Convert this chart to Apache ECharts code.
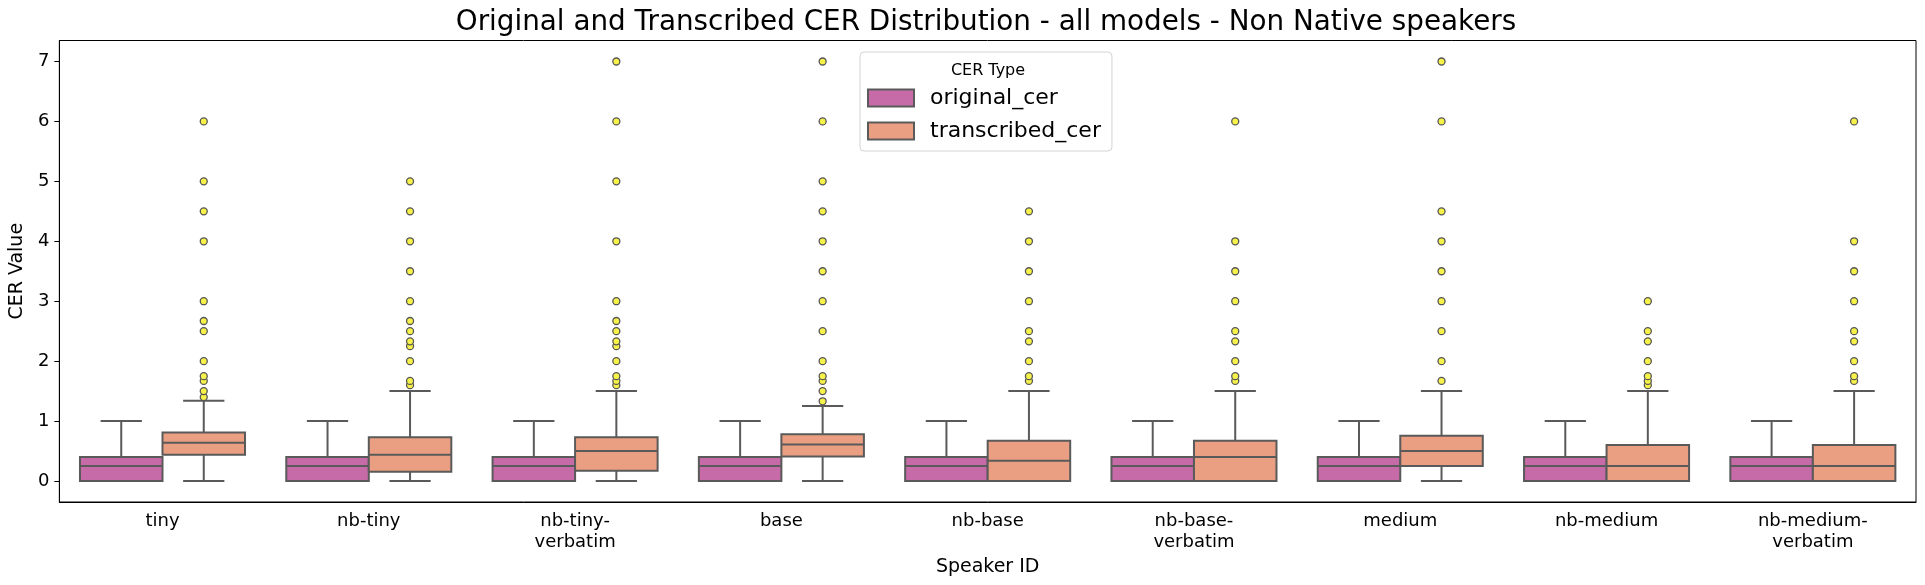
<!DOCTYPE html>
<html>
<head>
<meta charset="utf-8">
<script src="https://cdn.jsdelivr.net/npm/echarts@6/dist/echarts.min.js"></script>
<style>
html,body{margin:0;padding:0;background:#fff;}
#chart{width:1925px;height:585px;}
</style>
</head>
<body>
<div id="chart"></div>
<script>
// ---- data ----
const categories = ['tiny', 'nb-tiny', 'nb-tiny-\nverbatim', 'base', 'nb-base', 'nb-base-\nverbatim', 'medium', 'nb-medium', 'nb-medium-\nverbatim'];
const yTicks = [0, 1, 2, 3, 4, 5, 6, 7];
// [lower whisker, Q1, median, Q3, upper whisker]
const originalStats = [
  [0, 0, 0.25, 0.4, 1.0],
  [0, 0, 0.25, 0.4, 1.0],
  [0, 0, 0.25, 0.4, 1.0],
  [0, 0, 0.25, 0.4, 1.0],
  [0, 0, 0.25, 0.4, 1.0],
  [0, 0, 0.25, 0.4, 1.0],
  [0, 0, 0.25, 0.4, 1.0],
  [0, 0, 0.25, 0.4, 1.0],
  [0, 0, 0.25, 0.4, 1.0]
];
const transcribedStats = [
  [0, 0.44, 0.64, 0.81, 1.34],
  [0, 0.155, 0.44, 0.73, 1.5],
  [0, 0.17, 0.5, 0.73, 1.5],
  [0, 0.41, 0.61, 0.78, 1.25],
  [0, 0, 0.34, 0.67, 1.5],
  [0, 0, 0.4, 0.67, 1.5],
  [0, 0.25, 0.5, 0.755, 1.5],
  [0, 0, 0.25, 0.6, 1.5],
  [0, 0, 0.25, 0.6, 1.5]
];
const transcribedOutliers = [
  [1.4, 1.5, 1.67, 1.75, 2, 2.5, 2.67, 3, 4, 4.5, 5, 6],
  [1.6, 1.67, 2, 2.25, 2.33, 2.5, 2.67, 3, 3.5, 4, 4.5, 5],
  [1.6, 1.67, 1.75, 2, 2.25, 2.33, 2.5, 2.67, 3, 4, 5, 6, 7],
  [1.33, 1.5, 1.67, 1.75, 2, 2.5, 3, 3.5, 4, 4.5, 5, 6, 7],
  [1.67, 1.75, 2, 2.33, 2.5, 3, 3.5, 4, 4.5],
  [1.67, 1.75, 2, 2.33, 2.5, 3, 3.5, 4, 6],
  [1.67, 2, 2.5, 3, 3.5, 4, 4.5, 6, 7],
  [1.6, 1.67, 1.75, 2, 2.33, 2.5, 3],
  [1.67, 1.75, 2, 2.33, 2.5, 3, 3.5, 4, 6]
];
const seriesNames = ['original_cer', 'transcribed_cer'];

// ---- styles ----
const FONT = 'DejaVu Sans';
const colors = ['#c66aa8', '#eb9f82'];
const lineColor = '#5a5a5a';

function boxData(stats) {
  return stats.map((s, i) => [i].concat(s));
}
function outlierData(lists) {
  const out = [];
  lists.forEach((l, i) => l.forEach(v => out.push([i, v])));
  return out;
}

function makeBoxRender(hue) {
  return function (params, api) {
    const ci = api.value(0);
    const band = api.size([1, 0])[0];
    const w = band * 0.4;
    const cx = api.coord([ci, 0])[0] + (hue === 0 ? -w / 2 : w / 2);
    const yLo = api.coord([ci, api.value(1)])[1];
    const yQ1 = api.coord([ci, api.value(2)])[1];
    const yMed = api.coord([ci, api.value(3)])[1];
    const yQ3 = api.coord([ci, api.value(4)])[1];
    const yHi = api.coord([ci, api.value(5)])[1];
    const ls = { stroke: lineColor, lineWidth: 2, fill: null };
    const capW = w / 2;
    return {
      type: 'group',
      children: [
        { type: 'line', shape: { x1: cx, y1: yQ3, x2: cx, y2: yHi }, style: ls },
        { type: 'line', shape: { x1: cx, y1: yQ1, x2: cx, y2: yLo }, style: ls },
        { type: 'line', shape: { x1: cx - capW / 2, y1: yHi, x2: cx + capW / 2, y2: yHi }, style: ls },
        { type: 'line', shape: { x1: cx - capW / 2, y1: yLo, x2: cx + capW / 2, y2: yLo }, style: ls },
        { type: 'rect', shape: { x: cx - w / 2, y: yQ3, width: w, height: yQ1 - yQ3 },
          style: { fill: colors[hue], stroke: lineColor, lineWidth: 2 } },
        { type: 'line', shape: { x1: cx - w / 2, y1: yMed, x2: cx + w / 2, y2: yMed }, style: ls }
      ]
    };
  };
}

function makeOutlierRender(hue) {
  return function (params, api) {
    const ci = api.value(0);
    const band = api.size([1, 0])[0];
    const w = band * 0.4;
    const cx = api.coord([ci, 0])[0] + (hue === 0 ? -w / 2 : w / 2);
    const y = api.coord([ci, api.value(1)])[1];
    return {
      type: 'circle',
      shape: { cx: cx, cy: y, r: 3.5 },
      style: { fill: '#f6f24a', stroke: '#555555', lineWidth: 1.3 }
    };
  };
}

const chart = echarts.init(document.getElementById('chart'), null, { renderer: 'canvas' });
const option = {
  animation: false,
  backgroundColor: '#ffffff',
  textStyle: { fontFamily: FONT },
  title: [
    {
      text: 'Original and Transcribed CER Distribution - all models - Non Native speakers',
      left: 981, top: 4, textAlign: 'center',
      textStyle: { fontFamily: FONT, fontSize: 27.8, fontWeight: 'normal', color: '#000' }
    },
    {
      text: 'CER Type',
      left: 983, top: 58, textAlign: 'center',
      textStyle: { fontFamily: FONT, fontSize: 16, fontWeight: 'normal', color: '#000' }
    }
  ],
  legend: {
    orient: 'vertical',
    left: 860, top: 52,
    padding: [35, 11, 9, 7],
    itemWidth: 46, itemHeight: 17, itemGap: 11,
    borderColor: '#d4d4d4', borderWidth: 1, borderRadius: 4,
    backgroundColor: 'rgba(255,255,255,0.8)',
    textStyle: { fontFamily: FONT, fontSize: 22, lineHeight: 22, color: '#000', padding: [0, 0, 0, 11] },
    data: [
      { name: seriesNames[0], icon: 'rect', itemStyle: { color: colors[0], borderColor: lineColor, borderWidth: 2 } },
      { name: seriesNames[1], icon: 'rect', itemStyle: { color: colors[1], borderColor: lineColor, borderWidth: 2 } }
    ]
  },
  grid: {
    left: 56, right: 9, top: 40.5, bottom: 83,
    show: true, borderColor: '#000', borderWidth: 1, backgroundColor: 'transparent'
  },
  xAxis: {
    type: 'category',
    data: categories,
    boundaryGap: true,
    name: 'Speaker ID',
    nameLocation: 'middle',
    nameGap: 52,
    nameTextStyle: { fontFamily: FONT, fontSize: 19, color: '#000' },
    axisLine: { onZero: false, lineStyle: { color: '#000', width: 1 } },
    axisTick: { alignWithLabel: true, length: 5, lineStyle: { color: '#000' } },
    axisLabel: { fontFamily: FONT, fontSize: 18, color: '#000', lineHeight: 21, margin: 9, interval: 0 },
    splitLine: { show: false }
  },
  yAxis: {
    type: 'value',
    min: -0.35, max: 7.35,
    name: 'CER Value',
    nameLocation: 'middle',
    nameGap: 29,
    nameTextStyle: { fontFamily: FONT, fontSize: 19, color: '#000' },
    axisLine: { show: true, onZero: false, lineStyle: { color: '#000', width: 1 } },
    axisTick: { show: true, length: 5, lineStyle: { color: '#000' }, customValues: yTicks },
    axisLabel: { fontFamily: FONT, fontSize: 18, color: '#000', margin: 10, customValues: yTicks },
    splitLine: { show: false }
  },
  series: [
    {
      name: seriesNames[0], type: 'custom', renderItem: makeBoxRender(0),
      itemStyle: { color: colors[0] },
      encode: { x: 0, y: [1, 2, 3, 4, 5] },
      data: boxData(originalStats), z: 2
    },
    {
      name: seriesNames[1], type: 'custom', renderItem: makeBoxRender(1),
      itemStyle: { color: colors[1] },
      encode: { x: 0, y: [1, 2, 3, 4, 5] },
      data: boxData(transcribedStats), z: 2
    },
    {
      name: 'transcribed_outliers', type: 'custom', renderItem: makeOutlierRender(1),
      encode: { x: 0, y: 1 },
      data: outlierData(transcribedOutliers), z: 3
    }
  ]
};
chart.setOption(option);
</script>
</body>
</html>
